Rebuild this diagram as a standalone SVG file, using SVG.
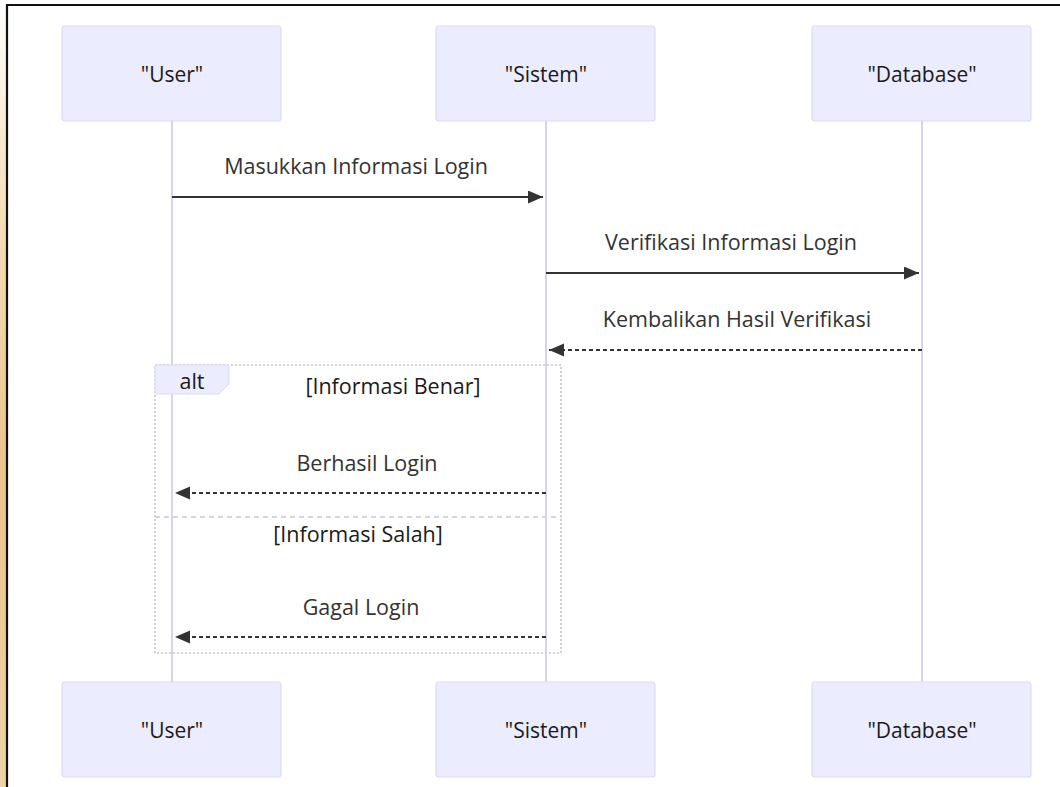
<svg xmlns="http://www.w3.org/2000/svg" width="1060" height="787" viewBox="0 0 1060 787">
  <style>
    .actor { fill: #ECECFF; stroke: #dcdcf2; stroke-width: 1.2; }
    .actor-label { font-family: "Open Sans", "DejaVu Sans", sans-serif; font-size: 21px; fill: #1a1a1a; text-anchor: middle; dominant-baseline: central; }
    .lifeline { stroke: #d4d4ee; stroke-width: 2; }
    .msg { stroke: #333; stroke-width: 2; fill: none; }
    .msg.reply { stroke-dasharray: 4 3; }
    .msg-label { font-family: "Open Sans", "DejaVu Sans", sans-serif; font-size: 21.5px; fill: #333; text-anchor: middle; dominant-baseline: central; }
    .loop { fill: none; stroke: #cfcfe0; stroke-width: 2; stroke-dasharray: 2 2; }
    .loop-sep { stroke: #d4d4e6; stroke-width: 2; stroke-dasharray: 5 4; }
    .loop-tag { fill: #ECECFF; stroke: #dcdcf2; stroke-width: 1; }
    .loop-label { font-family: "Open Sans", "DejaVu Sans", sans-serif; font-size: 21.5px; fill: #1a1a1a; text-anchor: middle; dominant-baseline: central; }
  </style>
  <defs>
    <marker id="head" markerWidth="16" markerHeight="14" refX="15" refY="6.5" orient="auto" markerUnits="userSpaceOnUse">
      <path d="M0,0 L15,6.5 L0,13 z" fill="#333"/>
    </marker>
    <linearGradient id="edge" x1="0" y1="0" x2="0" y2="1">
      <stop offset="0" stop-color="#ffffff"/>
      <stop offset="0.3" stop-color="#f2dcb4"/>
      <stop offset="0.6" stop-color="#e8c68c"/>
      <stop offset="1" stop-color="#edd3a6"/>
    </linearGradient>
  </defs>

  <!-- page background and frame -->
  <rect x="0" y="0" width="1060" height="787" fill="#ffffff"/>
  <rect x="0" y="0" width="6" height="787" fill="url(#edge)"/>
  <path d="M7,787 V5 H1060" fill="none" stroke="#111" stroke-width="2.2"/>

  <!-- lifelines -->
  <g id="lifelines">
    <line class="lifeline" x1="172" y1="121" x2="172" y2="682"/>
    <line class="lifeline" x1="546" y1="121" x2="546" y2="682"/>
    <line class="lifeline" x1="922" y1="121" x2="922" y2="682"/>
  </g>

  <!-- alt fragment -->
  <g id="alt-fragment">
    <rect class="loop" x="155" y="365" width="406" height="288"/>
    <path class="loop-tag" d="M155,365 H229 V384 L219,394 H155 Z"/>
    <text class="loop-label" x="192" y="380">alt</text>
    <text class="loop-label" x="393" y="385">[Informasi Benar]</text>
    <line class="loop-sep" x1="155" y1="517" x2="561" y2="517"/>
    <text class="loop-label" x="358" y="533">[Informasi Salah]</text>
  </g>

  <!-- participants -->
  <g id="user-top">
    <rect class="actor" x="62" y="26" width="219" height="95" rx="3"/>
    <text class="actor-label" x="172" y="74">"User"</text>
  </g>
  <g id="sistem-top">
    <rect class="actor" x="436" y="26" width="219" height="95" rx="3"/>
    <text class="actor-label" x="546" y="74">"Sistem"</text>
  </g>
  <g id="database-top">
    <rect class="actor" x="812" y="26" width="219" height="95" rx="3"/>
    <text class="actor-label" x="922" y="74">"Database"</text>
  </g>
  <g id="user-bottom">
    <rect class="actor" x="62" y="682" width="219" height="95" rx="3"/>
    <text class="actor-label" x="172" y="730">"User"</text>
  </g>
  <g id="sistem-bottom">
    <rect class="actor" x="436" y="682" width="219" height="95" rx="3"/>
    <text class="actor-label" x="546" y="730">"Sistem"</text>
  </g>
  <g id="database-bottom">
    <rect class="actor" x="812" y="682" width="219" height="95" rx="3"/>
    <text class="actor-label" x="922" y="730">"Database"</text>
  </g>

  <!-- messages -->
  <g id="messages">
    <line class="msg" x1="172" y1="197" x2="543" y2="197" marker-end="url(#head)"/>
    <text class="msg-label" x="356" y="165">Masukkan Informasi Login</text>

    <line class="msg" x1="546" y1="273" x2="919" y2="273" marker-end="url(#head)"/>
    <text class="msg-label" x="731" y="241">Verifikasi Informasi Login</text>

    <line class="msg reply" x1="922" y1="350" x2="549" y2="350" marker-end="url(#head)"/>
    <text class="msg-label" x="737" y="318">Kembalikan Hasil Verifikasi</text>

    <line class="msg reply" x1="546" y1="493" x2="175" y2="493" marker-end="url(#head)"/>
    <text class="msg-label" x="367" y="462">Berhasil Login</text>

    <line class="msg reply" x1="546" y1="637" x2="175" y2="637" marker-end="url(#head)"/>
    <text class="msg-label" x="361" y="606">Gagal Login</text>
  </g>
</svg>
